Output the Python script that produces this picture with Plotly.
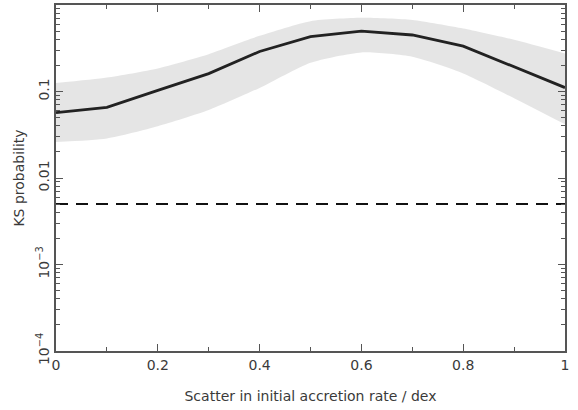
import plotly.graph_objects as go

scatter = [0.0, 0.1, 0.2, 0.3, 0.4, 0.5, 0.6, 0.7, 0.8, 0.9, 1.0]
ks_prob = [0.057, 0.0655, 0.103, 0.161, 0.29, 0.43, 0.50, 0.45, 0.335, 0.194, 0.111]
band_upper = [0.125, 0.145, 0.185, 0.27, 0.44, 0.65, 0.71, 0.67, 0.534, 0.396, 0.275]
band_lower = [0.026, 0.0286, 0.0396, 0.061, 0.11, 0.215, 0.283, 0.252, 0.162, 0.0838, 0.0418]
threshold = 0.005

ytick_vals = [1e-4, 1e-3, 1e-2, 1e-1, 1]
ytick_text = ["10<sup>\u22124</sup>", "10<sup>\u22123</sup>", "0.01", "0.1", "1"]
xtick_vals = [0, 0.2, 0.4, 0.6, 0.8, 1.0]
xtick_text = ["0", "0.2", "0.4", "0.6", "0.8", "1"]

fig = go.Figure()
fig.add_trace(go.Scatter(x=scatter, y=band_lower, mode="lines",
                         line=dict(width=0, shape="spline", smoothing=0.6),
                         showlegend=False, hoverinfo="skip"))
fig.add_trace(go.Scatter(x=scatter, y=band_upper, mode="lines",
                         line=dict(width=0, shape="spline", smoothing=0.6),
                         fill="tonexty", fillcolor="rgba(0,0,0,0)",
                         fillpattern=dict(shape=".", size=2, solidity=0.5,
                                          fgcolor="#c4c4c4", bgcolor="#eeeeee"),
                         showlegend=False, hoverinfo="skip"))
fig.add_trace(go.Scatter(x=[scatter[0], scatter[-1]], y=[threshold, threshold], mode="lines",
                         line=dict(color="#111111", width=2, dash="12px,8px"),
                         showlegend=False))
fig.add_trace(go.Scatter(x=scatter, y=ks_prob, mode="lines",
                         line=dict(color="#222222", width=2.8),
                         showlegend=False))

axis_font = dict(family="DejaVu Sans", size=14, color="#3a3a3a")
fig.update_xaxes(range=[0, 1], tickvals=xtick_vals, ticktext=xtick_text,
                 ticks="inside", ticklen=7, tickwidth=1.3, tickcolor="#555555",
                 showline=True, linecolor="#555555", linewidth=1.5, mirror="allticks",
                 showgrid=False, zeroline=False, tickfont=axis_font,
                 minor=dict(tickvals=[0.1, 0.3, 0.5, 0.7, 0.9], ticks="inside", ticklen=4,
                            tickwidth=1.3, tickcolor="#555555", showgrid=False),
                 title=dict(text="Scatter in initial accretion rate / dex", font=axis_font, standoff=20))
minor_y = [m * 10 ** e for e in range(-4, 0) for m in range(2, 10)]
fig.update_yaxes(type="log", range=[-4, 0], tickvals=ytick_vals, ticktext=ytick_text,
                 tickangle=-90,
                 ticks="inside", ticklen=7, tickwidth=1.3, tickcolor="#555555",
                 showline=True, linecolor="#555555", linewidth=1.5, mirror="allticks",
                 showgrid=False, zeroline=False, tickfont=axis_font,
                 minor=dict(tickvals=minor_y, ticks="inside", ticklen=4,
                            tickwidth=1.3, tickcolor="#555555", showgrid=False),
                 title=dict(text="KS probability", font=axis_font, standoff=6))
fig.update_layout(width=578, height=410, margin=dict(l=56, r=13, t=3, b=59),
                  plot_bgcolor="white", paper_bgcolor="white")
fig.write_html("out.html")
